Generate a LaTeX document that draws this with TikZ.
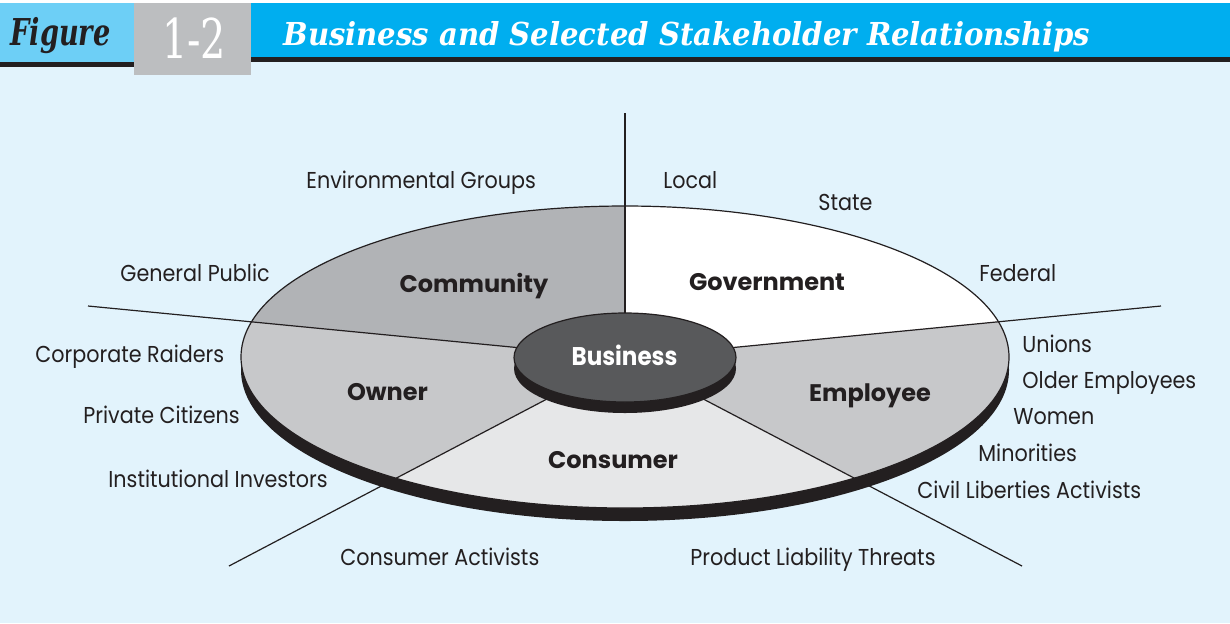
\documentclass[tikz,border=0pt]{standalone}
\usepackage{fontspec}
\usepackage{graphicx}
\usetikzlibrary{shapes.geometric}
\newfontfamily\pop{Poppins}
\newfontfamily\popn{Poppins}[FakeStretch=0.9]
\newfontfamily\hdserif{DejaVu Serif}
\definecolor{bgblue}{HTML}{E2F3FC}
\definecolor{hlight}{HTML}{6DCFF6}
\definecolor{hblue}{HTML}{00AEEF}
\definecolor{hgray}{HTML}{BCBEC0}
\definecolor{ink}{HTML}{231F20}
\definecolor{commc}{HTML}{B1B3B6}
\definecolor{sidec}{HTML}{C7C8CA}
\definecolor{consc}{HTML}{E6E7E8}
\definecolor{bizc}{HTML}{58595B}
\tikzset{
  lab/.style={anchor=base west, inner sep=0pt, text=ink, font=\popn\fontsize{11.5}{13}\selectfont},
  sector/.style={anchor=base, inner sep=0pt, text=ink, font=\pop\bfseries\fontsize{12}{14}\selectfont},
  spoke/.style={draw=ink, line width=0.6pt},
  rim/.style={draw=ink, line width=0.6pt},
}
\begin{document}
\begin{tikzpicture}[x=0.5pt,y=-0.5pt]
\useasboundingbox (0,0) rectangle (1230,623);
\fill[bgblue] (0,0) rectangle (1230,623);
\fill[white] (0,0) rectangle (1230,3);
% header
\fill[hlight] (0,3) rectangle (134,62);
\fill[ink] (0,62) rectangle (134,67);
\fill[hblue] (251,3) rectangle (1230,57);
\fill[ink] (251,57) rectangle (1230,62);
\fill[hgray] (134,3) rectangle (251,75);
\node[anchor=base west, inner sep=0pt, text=ink, font=\hdserif\fontsize{18.5}{22}\selectfont\bfseries\itshape] (figword) at (10,45) {\resizebox{50pt}{\height}{Figure}};
\node[anchor=base, inner sep=0pt, text=white, font=\hdserif\fontsize{27.4}{30}\selectfont] (fignum) at (194,58.5) {\resizebox{32pt}{\height}{1-2}};
\node[anchor=base west, inner sep=0pt, text=white, font=\hdserif\fontsize{15.8}{20}\selectfont\bfseries\itshape] (title) at (283,45) {\resizebox{403.5pt}{\height}{Business and Selected Stakeholder Relationships}};
% coordinates
\coordinate (C) at (625,358);
\coordinate (eUp) at (625,113);
\coordinate (eL) at (88,306);
\coordinate (eR) at (1161,306);
\coordinate (eLL) at (229,566);
\coordinate (eLR) at (1022,566);
% disc thickness
\fill[ink] (625,370) ellipse [x radius=384, y radius=151];
% sectors
\begin{scope}
\clip (625,357) ellipse [x radius=384, y radius=151];
\fill[commc] (C) -- (eUp) -- (88,113) -- (eL) -- cycle;
\fill[white] (C) -- (eUp) -- (1161,113) -- (eR) -- cycle;
\fill[sidec] (C) -- (eR) -- (1161,566) -- (eLR) -- cycle;
\fill[consc] (C) -- (eLR) -- (eLL) -- cycle;
\fill[sidec] (C) -- (eLL) -- (88,566) -- (eL) -- cycle;
\end{scope}
\draw[rim] (625,357) ellipse [x radius=384, y radius=151];
% spokes
\draw[spoke] (C) -- (eUp);
\draw[spoke] (C) -- (eL);
\draw[spoke] (C) -- (eR);
\draw[spoke] (C) -- (eLL);
\draw[spoke] (C) -- (eLR);
% business
\fill[ink] (625,368.5) ellipse [x radius=111, y radius=44.5];
\node[ellipse, fill=bizc, draw=ink, line width=0.6pt, minimum width=111pt, minimum height=44.5pt, inner sep=0pt] (biz) at (625,357.5) {};
\node[anchor=base, inner sep=0pt, text=white, font=\popn\bfseries\fontsize{12.8}{15}\selectfont] (bizlab) at (624.5,365.5) {Business};
% sector labels
\node[sector] (comm) at (474,292.5) {Community};
\node[sector] (gov) at (767,290) {Government};
\node[sector] (own) at (387.5,400) {Owner};
\node[sector] (emp) at (870,401) {Employee};
\node[sector] (cons) at (613,468) {Consumer};
% outer labels
\node[lab] (l1) at (306,188) {Environmental Groups};
\node[lab] (l2) at (663,188) {Local};
\node[lab] (l3) at (818,210) {State};
\node[lab] (l4) at (120,281) {General Public};
\node[lab] (l5) at (979,281) {Federal};
\node[lab] (l6) at (35,362) {Corporate Raiders};
\node[lab] (l7) at (1022,352) {Unions};
\node[lab] (l8) at (1022,388) {Older Employees};
\node[lab] (l9) at (83,423) {Private Citizens};
\node[lab] (l10) at (1013,424) {Women};
\node[lab] (l11) at (978,461) {Minorities};
\node[lab] (l12) at (108,487) {Institutional Investors};
\node[lab] (l13) at (917,498) {Civil Liberties Activists};
\node[lab] (l14) at (340,565) {Consumer Activists};
\node[lab] (l15) at (690,565) {Product Liability Threats};
\end{tikzpicture}
\end{document}
